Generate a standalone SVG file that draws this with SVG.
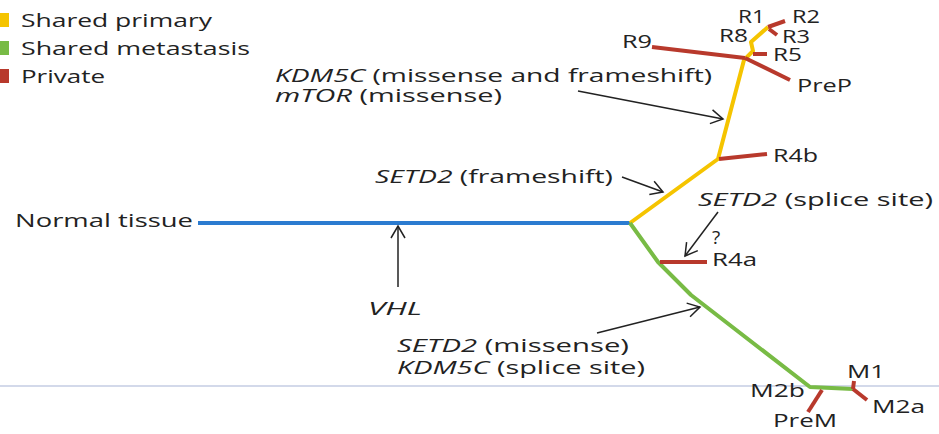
<svg xmlns="http://www.w3.org/2000/svg" width="939" height="434" viewBox="0 0 939 434">
<defs>
<style>
text{font-family:"Open Sans","Noto Sans","DejaVu Sans",sans-serif;font-size:19px;fill:#222}
.s{font-size:18px}
.i{font-style:italic}
.br{fill:none;stroke-width:4;stroke-linecap:butt;stroke-linejoin:round}
.y{stroke:#f5c400}
.g{stroke:#78bb45}
.r{stroke:#b8392c}
.b{stroke:#2b7bd0}
.ar{fill:none;stroke:#222;stroke-width:1.5}
</style>
<marker id="ah" markerUnits="userSpaceOnUse" markerWidth="20" markerHeight="20" refX="0" refY="0" viewBox="-14 -10 16 20" orient="auto">
<path d="M-12,-7 L0,0 L-12,7" fill="none" stroke="#222" stroke-width="1.5"/>
</marker>
</defs>
<rect width="939" height="434" fill="#fff"/>
<line x1="0" y1="386" x2="939" y2="386" stroke="#c5cce3" stroke-width="1.5"/>

<g id="legend">
<rect x="0" y="13" width="9" height="14" fill="#f5c400"/>
<text x="21" y="27" textLength="191" lengthAdjust="spacingAndGlyphs">Shared primary</text>
<rect x="0" y="41" width="9" height="14" fill="#78bb45"/>
<text x="21" y="55" textLength="229" lengthAdjust="spacingAndGlyphs">Shared metastasis</text>
<rect x="0" y="69" width="9" height="14" fill="#b8392c"/>
<text x="21" y="83" textLength="84" lengthAdjust="spacingAndGlyphs">Private</text>
</g>

<g id="tree">
<polyline class="br b" points="198,223 631,223"/>
<polyline class="br y" points="630,223 718,159 744,60 753,51 751,42 768,27"/>
<polyline class="br g" points="630,223 658,262 691,295 810,387 853,389"/>
<line class="br r" x1="768" y1="27" x2="785" y2="21"/>
<line class="br r" x1="769" y1="29" x2="777" y2="35"/>
<line class="br r" x1="753" y1="54" x2="767" y2="54"/>
<line class="br r" x1="745" y1="58" x2="652" y2="47"/>
<line class="br r" x1="745" y1="58" x2="790" y2="80"/>
<line class="br r" x1="719" y1="159" x2="767" y2="154"/>
<line class="br r" x1="660" y1="262" x2="707" y2="262"/>
<line class="br r" x1="822" y1="390" x2="808" y2="412"/>
<line class="br r" x1="854" y1="381" x2="853" y2="389"/>
<line class="br r" x1="853" y1="389" x2="867" y2="400"/>
</g>

<g id="connectors">
<line class="ar" x1="578" y1="91" x2="723" y2="119" marker-end="url(#ah)"/>
<line class="ar" x1="622" y1="177" x2="663" y2="192" marker-end="url(#ah)"/>
<line class="ar" x1="398" y1="287" x2="398" y2="226" marker-end="url(#ah)"/>
<line class="ar" x1="718" y1="212" x2="685" y2="256" marker-end="url(#ah)"/>
<line class="ar" x1="597" y1="333" x2="700" y2="307" marker-end="url(#ah)"/>
</g>

<g id="labels">
<text class="s" x="275" y="82" textLength="437" lengthAdjust="spacingAndGlyphs"><tspan class="i">KDM5C</tspan> (missense and frameshift)</text>
<text class="s" x="275" y="102" textLength="227" lengthAdjust="spacingAndGlyphs"><tspan class="i">mTOR</tspan> (missense)</text>
<text x="375" y="183" textLength="238" lengthAdjust="spacingAndGlyphs"><tspan class="i">SETD2</tspan> (frameshift)</text>
<text x="15" y="227" textLength="178" lengthAdjust="spacingAndGlyphs">Normal tissue</text>
<text x="368" y="315" textLength="54" lengthAdjust="spacingAndGlyphs" class="i">VHL</text>
<text x="698" y="206" textLength="235" lengthAdjust="spacingAndGlyphs"><tspan class="i">SETD2</tspan> (splice site)</text>
<text x="712" y="244">?</text>
<text class="s" x="397" y="352" textLength="232" lengthAdjust="spacingAndGlyphs"><tspan class="i">SETD2</tspan> (missense)</text>
<text class="s" x="397" y="374" textLength="248" lengthAdjust="spacingAndGlyphs"><tspan class="i">KDM5C</tspan> (splice site)</text>
</g>

<g id="nodes">
<text class="s" id="R1" x="738" y="23" textLength="27" lengthAdjust="spacingAndGlyphs">R1</text>
<text class="s" id="R2" x="792" y="23" textLength="28" lengthAdjust="spacingAndGlyphs">R2</text>
<text class="s" id="R8" x="719" y="42" textLength="29" lengthAdjust="spacingAndGlyphs">R8</text>
<text class="s" id="R3" x="782" y="43" textLength="28" lengthAdjust="spacingAndGlyphs">R3</text>
<text class="s" id="R5" x="773" y="61" textLength="29" lengthAdjust="spacingAndGlyphs">R5</text>
<text id="R9" x="622" y="48" textLength="30" lengthAdjust="spacingAndGlyphs">R9</text>
<text id="PreP" x="797" y="92" textLength="55" lengthAdjust="spacingAndGlyphs">PreP</text>
<text id="R4b" x="773" y="162" textLength="45" lengthAdjust="spacingAndGlyphs">R4b</text>
<text id="R4a" x="712" y="266" textLength="45" lengthAdjust="spacingAndGlyphs">R4a</text>
<text id="M2b" x="750" y="397" textLength="55" lengthAdjust="spacingAndGlyphs">M2b</text>
<text id="M1" x="847" y="378" textLength="38" lengthAdjust="spacingAndGlyphs">M1</text>
<text id="M2a" x="872" y="413" textLength="53" lengthAdjust="spacingAndGlyphs">M2a</text>
<text id="PreM" x="773" y="427" textLength="64" lengthAdjust="spacingAndGlyphs">PreM</text>
</g>
</svg>
